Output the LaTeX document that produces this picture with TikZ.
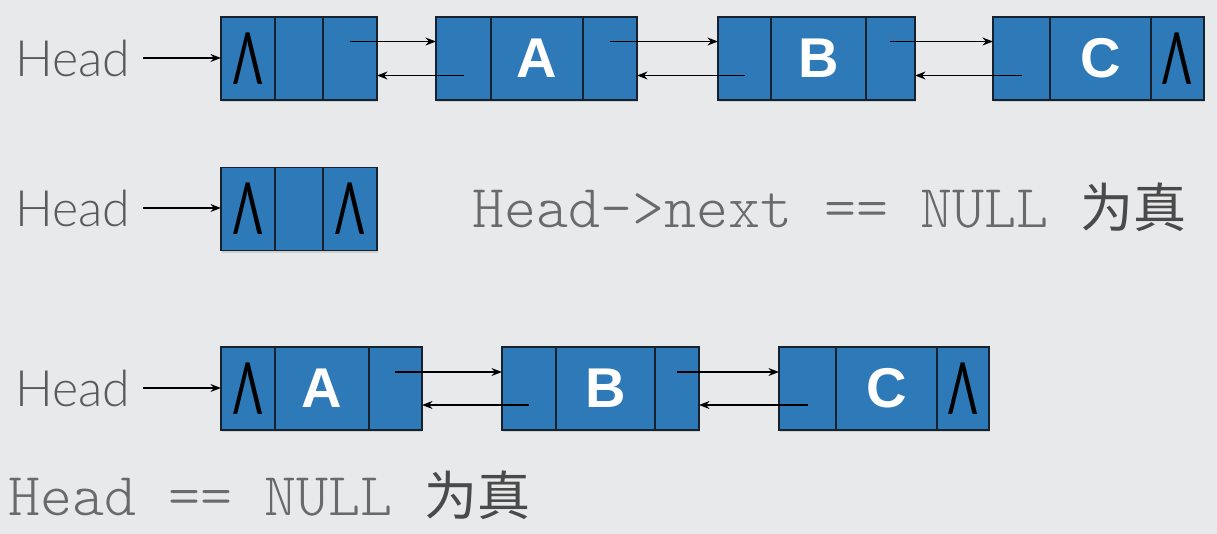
\documentclass[tikz,border=0pt]{standalone}
\usepackage{fontspec}
\usepackage{graphicx}
\usetikzlibrary{positioning,arrows.meta,shadows}

\newfontfamily\headfont{Lato Light}
\newfontfamily\markfont{Lato}
\newfontfamily\letterfont{Liberation Sans}
\newfontfamily\codefont{lmmonolt10-regular.otf}
\newfontfamily\cjkfont{Noto Sans CJK SC}

\definecolor{bgcol}{HTML}{E8E9EA}
\definecolor{cellblue}{HTML}{2E7AB8}
\definecolor{celledge}{HTML}{17222E}
\definecolor{headgray}{HTML}{5A5A5A}
\definecolor{codegray}{HTML}{6A6A6A}
\definecolor{cjkgray}{HTML}{4A4A4A}

% the "null" mark in an empty pointer cell
\newcommand{\nullmark}{\scalebox{0.6}[1]{\markfont\fontsize{41pt}{41pt}\selectfont Λ}}

\tikzset{
  cell/.style={draw=celledge, fill=cellblue, line width=0.8pt, minimum height=1.66cm,
    inner sep=0pt, outer sep=0pt,
    drop shadow={shadow xshift=0.3pt, shadow yshift=-1.2pt, opacity=0.25}},
  datum/.style={cell, font=\letterfont\bfseries\fontsize{31.9pt}{32pt}\selectfont, text=white},
  headlbl/.style={font=\headfont\fontsize{28.5pt}{30pt}\selectfont, text=headgray,
    inner sep=0pt, anchor=base west},
  code/.style={font=\codefont\fontsize{34.7pt}{40pt}\selectfont, text=codegray,
    inner sep=0pt, anchor=base west},
  link/.style={-{Stealth[length=6pt,width=4.5pt]}, line width=0.9pt, black}
}

\begin{document}
\begin{tikzpicture}[x=0.02cm,y=-0.02cm]
\fill[bgcol] (0,0) rectangle (1217,534);

% list with head node and three data nodes
\node[headlbl] (hx) at (15,76) {Head};
\node[cell, minimum width=1.08cm] (x0l) at (248,58.5) {\nullmark};
\node[cell, minimum width=0.96cm, right=0pt of x0l] (x0m) {};
\node[cell, minimum width=1.08cm, right=0pt of x0m] (x0r) {};
\node[cell, minimum width=1.10cm] (xal) at (463.5,58.5) {};
\node[datum, minimum width=1.84cm, right=0pt of xal] (xam) {A};
\node[cell, minimum width=1.08cm, right=0pt of xam] (xar) {};
\node[cell, minimum width=1.06cm] (xbl) at (744.5,58.5) {};
\node[datum, minimum width=1.90cm, right=0pt of xbl] (xbm) {B};
\node[cell, minimum width=0.98cm, right=0pt of xbm] (xbr) {};
\node[cell, minimum width=1.14cm] (xcl) at (1021.5,58.5) {};
\node[datum, minimum width=2.02cm, right=0pt of xcl] (xcm) {C};
\node[cell, minimum width=1.06cm, right=0pt of xcm] (xcr) {\nullmark};

\draw[link] ([xshift=7pt]hx.east) -- (hx.east -| x0l.west);
\draw[link] ([yshift=0.34cm]x0r.center) -- ([yshift=0.34cm]xal.west);
\draw[link] ([yshift=-0.34cm]xal.center) -- ([yshift=-0.34cm]x0r.east);
\draw[link] ([yshift=0.34cm]xar.center) -- ([yshift=0.34cm]xbl.west);
\draw[link] ([yshift=-0.34cm]xbl.center) -- ([yshift=-0.34cm]xar.east);
\draw[link] ([yshift=0.34cm]xbr.center) -- ([yshift=0.34cm]xcl.west);
\draw[link] ([yshift=-0.34cm]xcl.center) -- ([yshift=-0.34cm]xbr.east);

% empty list with head node
\node[headlbl] (hy) at (15,226) {Head};
\node[cell, minimum width=1.08cm] (y0l) at (248,209) {\nullmark};
\node[cell, minimum width=0.96cm, right=0pt of y0l] (y0m) {};
\node[cell, minimum width=1.08cm, right=0pt of y0m] (y0r) {\nullmark};
\draw[link] ([xshift=7pt]hy.east) -- (hy.east -| y0l.west);
\node[code] (tnext) at (472,227) {Head->next == NULL {\cjkfont\color{cjkgray}\fontsize{30.2pt}{36pt}\selectfont 为真}};

% list without head node
\node[headlbl] (hz) at (15,406) {Head};
\node[cell, minimum width=1.08cm] (zal) at (248,388.5) {\nullmark};
\node[datum, minimum width=1.88cm, right=0pt of zal] (zam) {A};
\node[cell, minimum width=1.06cm, right=0pt of zam] (zar) {};
\node[cell, minimum width=1.08cm] (zbl) at (529,388.5) {};
\node[datum, minimum width=1.98cm, right=0pt of zbl] (zbm) {B};
\node[cell, minimum width=0.88cm, right=0pt of zbm] (zbr) {};
\node[cell, minimum width=1.14cm] (zcl) at (807.5,388.5) {};
\node[datum, minimum width=2.02cm, right=0pt of zcl] (zcm) {C};
\node[cell, minimum width=1.04cm, right=0pt of zcm] (zcr) {\nullmark};

\draw[link] ([xshift=7pt]hz.east) -- (hz.east -| zal.west);
\draw[link] ([yshift=0.33cm]zar.center) -- ([yshift=0.33cm]zbl.west);
\draw[link] ([yshift=-0.33cm]zbl.center) -- ([yshift=-0.33cm]zar.east);
\draw[link] ([yshift=0.33cm]zbr.center) -- ([yshift=0.33cm]zcl.west);
\draw[link] ([yshift=-0.33cm]zcl.center) -- ([yshift=-0.33cm]zbr.east);
\node[code] (tnull) at (8,515) {Head == NULL {\cjkfont\color{cjkgray}\fontsize{30.2pt}{36pt}\selectfont 为真}};
\end{tikzpicture}
\end{document}
